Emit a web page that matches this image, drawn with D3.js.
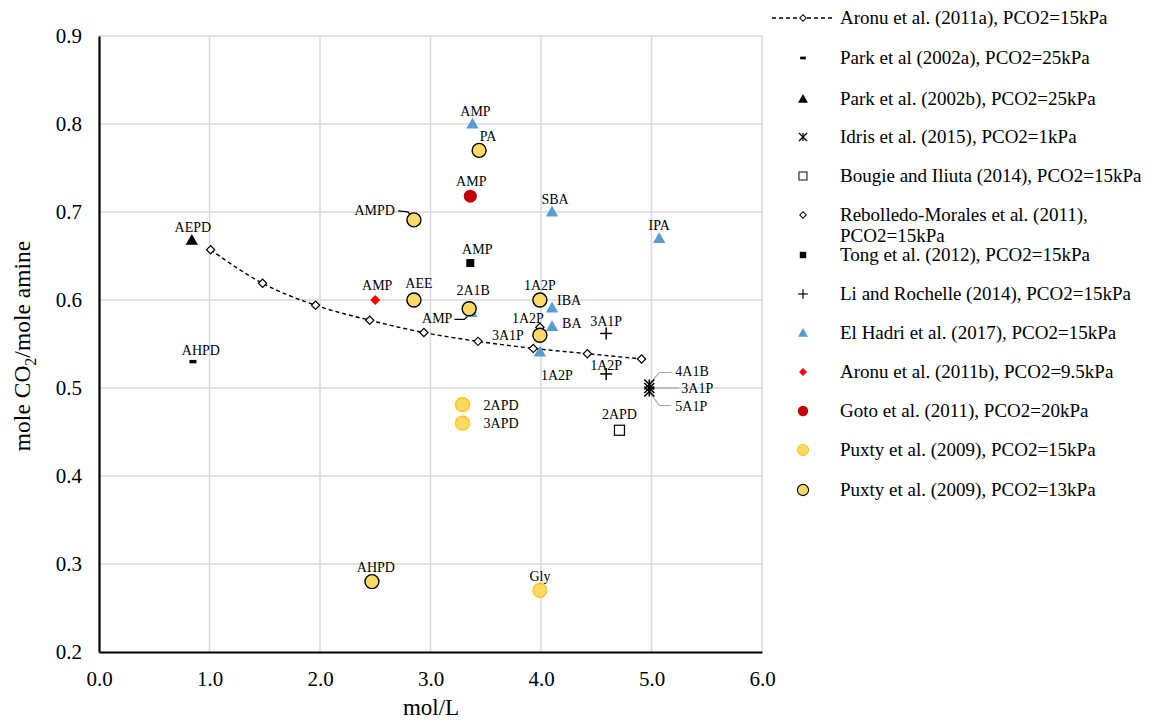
<!DOCTYPE html>
<html lang="en">
<head>
<meta charset="utf-8">
<title>CO2 loading vs amine concentration</title>
<script src="https://d3js.org/d3.v7.min.js"></script>
<style>
  body { margin: 0; background: #fff; }
  svg text { font-family: "Liberation Serif", "Times New Roman", serif; fill: #000; }
</style>
</head>
<body>
<script>
// ---- data (mol/L, mole CO2 / mole amine) ----
var aronuA_x = [1.01, 1.48, 1.96, 2.45, 2.94, 3.43, 3.93, 4.42, 4.91];
var aronuA_y = [0.657, 0.619, 0.594, 0.577, 0.563, 0.553, 0.545, 0.539, 0.533];

var parkA = [{x: 0.85, y: 0.530, label: "AHPD"}];
var parkB = [{x: 0.84, y: 0.668, label: "AEPD"}];
var idris = [{x: 4.98, y: 0.504, label: "4A1B"}, {x: 4.98, y: 0.500, label: "3A1P"}, {x: 4.98, y: 0.496, label: "5A1P"}];
var bougie = [{x: 4.71, y: 0.452, label: "2APD"}];
var rebolledo = [{x: 3.99, y: 0.569, label: "1A2P"}];
var tong = [{x: 3.36, y: 0.642, label: "AMP"}];
var liRochelle = [{x: 4.59, y: 0.562, label: "3A1P"}, {x: 4.59, y: 0.516, label: "1A2P"}];
var elHadri = [
  {x: 3.38, y: 0.800, label: "AMP"},
  {x: 4.10, y: 0.700, label: "SBA"},
  {x: 5.07, y: 0.670, label: "IPA"},
  {x: 4.10, y: 0.591, label: "IBA"},
  {x: 4.10, y: 0.570, label: "BA"},
  {x: 3.99, y: 0.541, label: "1A2P"},
  {x: 3.37, y: 0.586, label: "AMP"}
];
var aronuB = [{x: 2.50, y: 0.600, label: "AMP"}];
var goto = [{x: 3.36, y: 0.718, label: "AMP"}];
var puxty15 = [{x: 3.29, y: 0.481, label: "2APD"}, {x: 3.29, y: 0.460, label: "3APD"}, {x: 3.99, y: 0.270, label: "Gly"}];
var puxty13 = [
  {x: 3.44, y: 0.770, label: "PA"},
  {x: 2.85, y: 0.691, label: "AMPD"},
  {x: 2.85, y: 0.600, label: "AEE"},
  {x: 3.35, y: 0.590, label: "2A1B"},
  {x: 3.99, y: 0.600, label: "1A2P"},
  {x: 3.99, y: 0.560, label: "3A1P"},
  {x: 2.47, y: 0.280, label: "AHPD"}
];

var xTicks = [0, 1, 2, 3, 4, 5, 6];
var yTicks = [0.2, 0.3, 0.4, 0.5, 0.6, 0.7, 0.8, 0.9];

var legendNames = [
  "Aronu et al. (2011a), PCO2=15kPa",
  "Park et al (2002a), PCO2=25kPa",
  "Park et al. (2002b), PCO2=25kPa",
  "Idris et al. (2015), PCO2=1kPa",
  "Bougie and Iliuta (2014), PCO2=15kPa",
  "Rebolledo-Morales et al. (2011),|PCO2=15kPa",
  "Tong et al. (2012), PCO2=15kPa",
  "Li and Rochelle (2014), PCO2=15kPa",
  "El Hadri et al. (2017), PCO2=15kPa",
  "Aronu et al. (2011b), PCO2=9.5kPa",
  "Goto et al. (2011), PCO2=20kPa",
  "Puxty et al. (2009), PCO2=15kPa",
  "Puxty et al. (2009), PCO2=13kPa"
];

// ---- layout ----
var W = 1153, H = 723;
var svg = d3.select("body").append("svg").attr("width", W).attr("height", H);

var x = d3.scaleLinear().domain([0, 6]).range([99, 762]);
var y = d3.scaleLinear().domain([0.2, 0.9]).range([652, 36]);

var grid = "#d9d9d9";
var yellow = "#ffd966";

// gridlines
svg.append("g").selectAll("line").data(yTicks.slice(1)).enter().append("line")
  .attr("x1", x(0)).attr("x2", x(6))
  .attr("y1", function(d) { return y(d); }).attr("y2", function(d) { return y(d); })
  .attr("stroke", grid).attr("stroke-width", 1.5);
svg.append("g").selectAll("line").data(xTicks.slice(1)).enter().append("line")
  .attr("x1", function(d) { return x(d); }).attr("x2", function(d) { return x(d); })
  .attr("y1", y(0.2)).attr("y2", y(0.9))
  .attr("stroke", grid).attr("stroke-width", 1.5);

// axes
var xAxis = svg.append("g").attr("transform", "translate(0," + y(0.2) + ")")
  .call(d3.axisBottom(x).tickValues(xTicks).tickSize(0).tickPadding(19).tickFormat(d3.format(".1f")));
var yAxis = svg.append("g").attr("transform", "translate(" + x(0) + ",0)")
  .call(d3.axisLeft(y).tickValues(yTicks).tickSize(0).tickPadding(17).tickFormat(d3.format(".1f")));
[xAxis, yAxis].forEach(function(a) {
  a.select(".domain").attr("stroke", "#000").attr("stroke-width", 2.2);
  a.selectAll("text").style("font-family", "'Liberation Serif', serif").style("font-size", "21px");
});

svg.append("text").attr("x", 431).attr("y", 715).attr("text-anchor", "middle")
  .style("font-size", "23px").text("mol/L");
var yt = svg.append("text").attr("transform", "translate(30,346) rotate(-90)")
  .attr("text-anchor", "middle").style("font-size", "23.5px");
yt.append("tspan").text("mole CO");
yt.append("tspan").attr("dy", 6).style("font-size", "16px").text("2");
yt.append("tspan").attr("dy", -6).text("/mole amine");

// ---- marker painters ----
function paint(g, kind, cx, cy) {
  var s;
  if (kind === "openDiamond") {
    g.append("path").attr("d", d3.symbol(d3.symbolSquare, 34)())
      .attr("transform", "translate(" + cx + "," + cy + ") rotate(45)")
      .attr("fill", "#fff").attr("stroke", "#000").attr("stroke-width", 1.2);
  } else if (kind === "dash") {
    g.append("rect").attr("x", cx - 3.5).attr("y", cy - 1.7).attr("width", 7).attr("height", 3.4).attr("fill", "#000");
  } else if (kind === "blackTri" || kind === "blueTri") {
    g.append("path").attr("d", d3.symbol(d3.symbolTriangle, 66)())
      .attr("transform", "translate(" + cx + "," + (cy + 1) + ")")
      .attr("fill", kind === "blackTri" ? "#000" : "#5b9bd5");
  } else if (kind === "star") {
    s = g.append("g").attr("stroke", "#000").attr("stroke-width", 1.6);
    s.append("line").attr("x1", cx - 5).attr("x2", cx + 5).attr("y1", cy - 5).attr("y2", cy + 5);
    s.append("line").attr("x1", cx - 5).attr("x2", cx + 5).attr("y1", cy + 5).attr("y2", cy - 5);
    s.append("line").attr("x1", cx).attr("x2", cx).attr("y1", cy - 5).attr("y2", cy + 5);
  } else if (kind === "openSquare") {
    g.append("rect").attr("x", cx - 5).attr("y", cy - 5).attr("width", 10).attr("height", 10)
      .attr("fill", "#fff").attr("stroke", "#000").attr("stroke-width", 1.2);
  } else if (kind === "blackSquare") {
    g.append("rect").attr("x", cx - 4).attr("y", cy - 4).attr("width", 8).attr("height", 8).attr("fill", "#000");
  } else if (kind === "plus") {
    s = g.append("g").attr("stroke", "#000").attr("stroke-width", 1.5);
    s.append("line").attr("x1", cx - 6).attr("x2", cx + 6).attr("y1", cy).attr("y2", cy);
    s.append("line").attr("x1", cx).attr("x2", cx).attr("y1", cy - 6).attr("y2", cy + 6);
  } else if (kind === "redDiamond") {
    g.append("path").attr("d", d3.symbol(d3.symbolSquare, 50)())
      .attr("transform", "translate(" + cx + "," + cy + ") rotate(45)").attr("fill", "#ff0000");
  } else if (kind === "gotoDot") {
    g.append("circle").attr("cx", cx).attr("cy", cy).attr("r", 6.5).attr("fill", "#c00000");
  } else if (kind === "puxty15") {
    g.append("circle").attr("cx", cx).attr("cy", cy).attr("r", 7).attr("fill", yellow)
      .attr("stroke", "#ffc000").attr("stroke-width", 1.2);
  } else if (kind === "puxty13") {
    g.append("circle").attr("cx", cx).attr("cy", cy).attr("r", 7).attr("fill", yellow)
      .attr("stroke", "#000").attr("stroke-width", 1.4);
  }
}

// Aronu 2011a dashed line
var aronuPts = aronuA_x.map(function(v, i) { return [v, aronuA_y[i]]; });
svg.append("path").datum(aronuPts)
  .attr("d", d3.line().x(function(d) { return x(d[0]); }).y(function(d) { return y(d[1]); }).curve(d3.curveMonotoneX))
  .attr("fill", "none").attr("stroke", "#000").attr("stroke-width", 1.4).attr("stroke-dasharray", "4,3");

// series in drawing order
var series = [
  {data: elHadri, kind: "blueTri"},
  {data: aronuPts.map(function(d) { return {x: d[0], y: d[1]}; }), kind: "openDiamond"},
  {data: parkA, kind: "dash"},
  {data: parkB, kind: "blackTri"},
  {data: idris, kind: "star"},
  {data: bougie, kind: "openSquare"},
  {data: rebolledo, kind: "openDiamond"},
  {data: tong, kind: "blackSquare"},
  {data: liRochelle, kind: "plus"},
  {data: aronuB, kind: "redDiamond"},
  {data: goto, kind: "gotoDot"},
  {data: puxty15, kind: "puxty15"},
  {data: puxty13, kind: "puxty13"}
];
var marks = svg.append("g");
series.forEach(function(s) {
  s.data.forEach(function(d) { paint(marks, s.kind, x(d.x), y(d.y)); });
});

// ---- point labels: [point, dx, dy, anchor] (offset from marker centre) ----
var labelLayout = [
  [parkA[0], 8, -7, "middle"],
  [parkB[0], 1, -8, "middle"],
  [bougie[0], 0, -11, "middle"],
  [rebolledo[0], -12, -4, "middle"],
  [tong[0], 7, -9, "middle"],
  [liRochelle[0], 0, -7, "middle"],
  [liRochelle[1], 0, -4, "middle"],
  [elHadri[0], 3, -8, "middle"],
  [elHadri[1], 3, -8, "middle"],
  [elHadri[2], 0, -8, "middle"],
  [elHadri[3], 5, -3, "start"],
  [elHadri[4], 10, 2, "start"],
  [elHadri[5], 17, 28, "middle"],
  [aronuB[0], 2, -10, "middle"],
  [goto[0], 1, -10, "middle"],
  [puxty15[0], 21, 5, "start"],
  [puxty15[1], 21, 5, "start"],
  [puxty15[2], 0, -9, "middle"],
  [puxty13[0], 9, -9, "middle"],
  [puxty13[2], 5, -12, "middle"],
  [puxty13[3], 4, -14, "middle"],
  [puxty13[4], 0, -10, "middle"],
  [puxty13[5], -16, 5, "end"],
  [puxty13[6], 4, -10, "middle"]
];
var labels = svg.append("g").style("font-size", "14px");
labelLayout.forEach(function(l) {
  labels.append("text").attr("x", x(l[0].x) + l[1]).attr("y", y(l[0].y) + l[2])
    .attr("text-anchor", l[3]).text(l[0].label);
});

// labels with leader lines
function leader(p, pts, tx, ty, anchor, colour, text) {
  var cx = x(p.x), cy = y(p.y);
  svg.append("path")
    .attr("d", d3.line()([[cx, cy]].concat(pts.map(function(q) { return [cx + q[0], cy + q[1]]; }))))
    .attr("fill", "none").attr("stroke", colour).attr("stroke-width", 1.2);
  labels.append("text").attr("x", cx + tx).attr("y", cy + ty).attr("text-anchor", anchor).text(text);
}
leader(puxty13[1], [[-6, -8], [-16, -9]], -19, -5, "end", "#000", puxty13[1].label);
leader(elHadri[6], [[-7, 7], [-17, 7]], -19, 11, "end", "#000", elHadri[6].label);
leader(idris[0], [[10, -12], [22, -12]], 26, -8, "start", "#a6a6a6", idris[0].label);
leader(idris[1], [[30, 0]], 32, 5, "start", "#a6a6a6", idris[1].label);
leader(idris[2], [[10, 14], [22, 14]], 26, 19, "start", "#a6a6a6", idris[2].label);

// Puxty 13kPa circles and labels stay above the leader lines
marks.raise();
labels.raise();

// ---- legend ----
var legendKinds = ["line", "dash", "blackTri", "star", "openSquare", "openDiamond", "blackSquare",
  "plus", "blueTri", "redDiamond", "gotoDot", "puxty15", "puxty13"];
var legendRowY = [18, 58, 99, 137, 176, 215, 255, 294, 333, 372, 411, 450, 490];
var lg = svg.append("g").style("font-size", "19px");
legendNames.forEach(function(name, i) {
  var ly = legendRowY[i];
  if (legendKinds[i] === "line") {
    lg.append("line").attr("x1", 772).attr("x2", 835).attr("y1", ly).attr("y2", ly)
      .attr("stroke", "#000").attr("stroke-width", 1.4).attr("stroke-dasharray", "4,3");
  }
  var key = lg.append("g").attr("transform", "translate(803," + ly + ") scale(0.8)");
  paint(key, legendKinds[i] === "line" ? "openDiamond" : legendKinds[i], 0, 0);
  var parts = name.split("|");
  parts.forEach(function(p, j) {
    lg.append("text").attr("x", 840).attr("y", ly + 6 + j * 21).text(p);
  });
});
</script>
</body>
</html>
